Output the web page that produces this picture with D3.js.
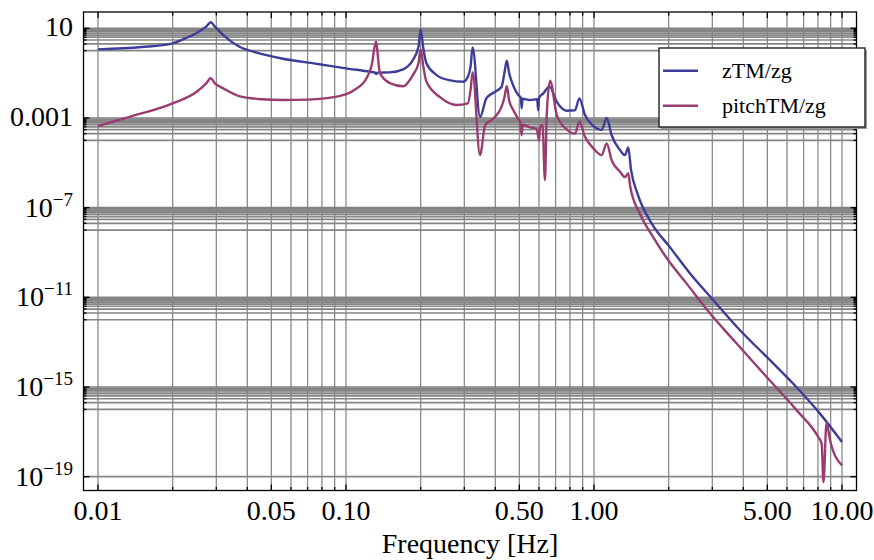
<!DOCTYPE html>
<html>
<head>
<meta charset="utf-8">
<script src="https://cdn.jsdelivr.net/npm/d3@7"></script>
<style>
  body { margin: 0; background: #fff; }
  svg { display: block; }
  text { font-family: "Liberation Serif", "Times New Roman", serif; fill: #000; }
</style>
</head>
<body>
<svg id="chart" width="874" height="560"></svg>
<script>
// zTM/zg response (frequency in Hz, magnitude)
var zFreq = [0.01, 0.015, 0.02, 0.022, 0.025, 0.0273, 0.0285, 0.0296, 0.032, 0.037, 0.044, 0.055, 0.078, 0.1,
  0.125, 0.131, 0.1325, 0.134, 0.15, 0.17, 0.186, 0.196, 0.2, 0.205, 0.211, 0.232, 0.26, 0.297,
  0.31, 0.318, 0.324, 0.347, 0.368, 0.393, 0.424, 0.435, 0.445, 0.455, 0.466, 0.495, 0.507,
  0.511, 0.515, 0.552, 0.59, 0.596, 0.6, 0.625, 0.661, 0.708, 0.776, 0.838, 0.873, 0.92, 0.994,
  1.074, 1.125, 1.178, 1.273, 1.334, 1.374, 1.41, 1.5, 1.71, 2.02, 2.44, 3.03, 3.88, 4.97, 6.36,
  8.15, 10];
var zMag = [1.15, 1.46, 2.14, 3.2, 6.2, 11.8, 18.6, 11.8, 5.0, 1.55, 0.80, 0.45, 0.25, 0.164,
  0.115, 0.106, 0.09, 0.105, 0.108, 0.148, 0.385, 1.5, 9.0, 1.3, 0.275, 0.082, 0.049, 0.0415,
  0.069, 0.2, 1.4, 1.1e-3, 7.5e-3, 0.0133, 0.0247, 0.098, 0.358, 0.098, 0.0417, 0.0105, 8.0e-3,
  2.7e-3, 7.2e-3, 6.3e-3, 6.8e-3, 2.2e-3, 7.8e-3, 0.0126, 0.025, 5.2e-3, 2.1e-3, 2.2e-3, 7.5e-3, 1.35e-3, 4.4e-4,
  2.9e-4, 1.0e-3, 1.7e-4, 3.7e-5, 2.2e-5, 4.9e-5, 5e-6, 4e-7, 1.95e-8, 1.78e-9, 1.15e-10, 7.4e-12, 3.4e-13, 2.2e-14, 1.4e-15,
  6.5e-17, 3.5e-18];

// pitchTM/zg response
var pFreq = [0.01, 0.0133, 0.02, 0.025, 0.0273, 0.0285, 0.0296, 0.032, 0.037, 0.046, 0.055, 0.07, 0.094, 0.108,
  0.121, 0.127, 0.132, 0.137, 0.151, 0.17, 0.186, 0.196, 0.2, 0.205, 0.211, 0.24, 0.28, 0.31,
  0.318, 0.324, 0.347, 0.364, 0.393, 0.424, 0.435, 0.445, 0.455, 0.473, 0.495, 0.503, 0.511,
  0.515, 0.552, 0.587, 0.601, 0.605, 0.62, 0.634, 0.645, 0.665, 0.708, 0.776, 0.838, 0.873, 0.92,
  0.994, 1.074, 1.125, 1.178, 1.273, 1.334, 1.374, 1.40, 1.53, 1.73, 1.99, 2.36, 2.94, 3.76, 4.97,
  6.57, 8.02, 8.28, 8.42, 8.66, 8.95, 10];
var pMag = [4.4e-4, 1.1e-3, 4.5e-3, 0.0148, 0.035, 0.059, 0.035, 0.021, 9.5e-3, 6.8e-3, 6.3e-3, 6.6e-3, 9.5e-3, 0.0178,
  0.059, 0.23, 2.5, 0.1, 0.035, 0.026, 0.082, 0.275, 1.15, 0.2, 0.042, 8.3e-3, 3.8e-3, 4.5e-3,
  0.018, 0.11, 2.2e-5, 4.8e-4, 9.5e-4, 3.2e-3, 8e-3, 0.026, 6e-3, 2.2e-3, 9e-4, 6.8e-4, 1.7e-4,
  5e-4, 3.8e-4, 3.3e-4, 1.0e-4, 3.5e-4, 5e-4, 1.7e-6, 1.5e-3, 0.046, 1.35e-3, 3.1e-4, 2.0e-4, 6.8e-4, 1.44e-4,
  4.4e-5, 2.2e-5, 7.4e-5, 1.3e-5, 4.0e-6, 2.3e-6, 3.4e-6, 8.5e-7, 5.5e-8, 5.0e-9, 4.6e-10, 4.2e-11, 1.9e-12, 8.7e-14, 2.8e-15,
  9.1e-17, 5.9e-18, 3.0e-18, 5.6e-20, 2.5e-17, 4.2e-18, 3.2e-19];

var seriesNames = ["zTM/zg", "pitchTM/zg"];
var seriesColors = ["#3d3d99", "#993d71"];

var xTicks = [0.01, 0.05, 0.1, 0.5, 1, 5, 10];
var xTickLabels = ["0.01", "0.05", "0.10", "0.50", "1.00", "5.00", "10.00"];
var xDecades = [0.01, 0.1, 1];

var yTicks = [1e1, 1e-3, 1e-7, 1e-11, 1e-15, 1e-19];
var yTickBase = ["10", "0.001", "10", "10", "10", "10"];
var yTickExp = ["", "", "\u22127", "\u221211", "\u221215", "\u221219"];


var svg = d3.select("svg#chart");

// frame box
var frame = {left: 83.5, right: 856.5, top: 12, bottom: 490.5};

var x = d3.scaleLog().domain([0.01, 10]).range([98, 842]);
var y = d3.scaleLog().domain([10, 1e-19]).range([28.3, 476.7]);

// vertical grid: 1..9 in every decade, plus the end
var xGrid = [];
for (var dec of xDecades) {
  for (var m = 1; m <= 9; m++) xGrid.push(m * dec);
}
xGrid.push(10);

// horizontal grid: each major tick plus the decade underneath it
var yGridMinor = [];
yTicks.forEach(function(t, i) {
  if (i == yTicks.length - 1) return;
  for (var m = 1; m <= 9; m++) yGridMinor.push(m * t / 10);
});

var grid = svg.append("g");

grid.selectAll("line.vgrid")
  .data(xGrid)
  .enter().append("line")
  .attr("class", "vgrid")
  .attr("x1", d => x(d)).attr("x2", d => x(d))
  .attr("y1", frame.top).attr("y2", frame.bottom)
  .attr("stroke", "#8a8a8a")
  .attr("stroke-width", 1.3);

grid.selectAll("line.hgrid")
  .data(yTicks.concat(yGridMinor))
  .enter().append("line")
  .attr("class", "hgrid")
  .attr("x1", frame.left).attr("x2", frame.right)
  .attr("y1", d => y(d)).attr("y2", d => y(d))
  .attr("stroke", "#858585")
  .attr("stroke-width", 1.7);


// curves
svg.append("clipPath").attr("id", "plotClip")
  .append("rect")
  .attr("x", frame.left).attr("y", frame.top)
  .attr("width", frame.right - frame.left)
  .attr("height", frame.bottom - frame.top);

var line = d3.line()
  .x(d => x(d[0]))
  .y(d => y(d[1]))
  .curve(d3.curveMonotoneX);

var series = [d3.zip(zFreq, zMag), d3.zip(pFreq, pMag)];

svg.append("g").attr("clip-path", "url(#plotClip)")
  .selectAll("path.curve")
  .data(series)
  .enter().append("path")
  .attr("class", "curve")
  .attr("d", d => line(d))
  .attr("fill", "none")
  .attr("stroke", (d, i) => seriesColors[i])
  .attr("stroke-width", 2.4)
  .attr("stroke-linejoin", "round");


// frame and ticks
svg.append("rect")
  .attr("x", frame.left).attr("y", frame.top)
  .attr("width", frame.right - frame.left)
  .attr("height", frame.bottom - frame.top)
  .attr("fill", "none")
  .attr("stroke", "#000")
  .attr("stroke-width", 1.3);

var ticks = svg.append("g").attr("stroke", "#000").attr("stroke-width", 1.3);

var xTickData = xGrid.map(d => ({v: d, len: xTicks.indexOf(d) >= 0 ? 6 : 3.5}));
ticks.selectAll("line.xb")
  .data(xTickData)
  .enter().append("line")
  .attr("class", "xb")
  .attr("x1", d => x(d.v)).attr("x2", d => x(d.v))
  .attr("y1", frame.bottom).attr("y2", d => frame.bottom - d.len);
ticks.selectAll("line.xt")
  .data(xTickData)
  .enter().append("line")
  .attr("class", "xt")
  .attr("x1", d => x(d.v)).attr("x2", d => x(d.v))
  .attr("y1", frame.top).attr("y2", d => frame.top + d.len);

var yTickData = yTicks.map(d => ({v: d, len: 6}))
  .concat(yGridMinor.map(d => ({v: d, len: 3})));
ticks.selectAll("line.yl")
  .data(yTickData)
  .enter().append("line")
  .attr("class", "yl")
  .attr("x1", frame.left).attr("x2", d => frame.left + d.len)
  .attr("y1", d => y(d.v)).attr("y2", d => y(d.v));
ticks.selectAll("line.yr")
  .data(yTickData)
  .enter().append("line")
  .attr("class", "yr")
  .attr("x1", frame.right).attr("x2", d => frame.right - d.len)
  .attr("y1", d => y(d.v)).attr("y2", d => y(d.v));


// tick labels
svg.selectAll("text.xlabel")
  .data(xTicks)
  .enter().append("text")
  .attr("class", "xlabel")
  .attr("x", d => x(d))
  .attr("y", 520)
  .attr("text-anchor", "middle")
  .attr("font-size", 28)
  .text((d, i) => xTickLabels[i]);

var yl = svg.selectAll("text.ylabel")
  .data(yTicks)
  .enter().append("text")
  .attr("class", "ylabel")
  .attr("x", 73)
  .attr("y", (d, i) => y(d) + (yTickExp[i] ? 9 : 8))
  .attr("text-anchor", "end")
  .attr("font-size", 28)
  .text((d, i) => yTickBase[i]);

yl.filter((d, i) => yTickExp[i] != "")
  .append("tspan")
  .attr("dy", -11)
  .attr("font-size", 19)
  .text(d => yTickExp[yTicks.indexOf(d)]);

svg.append("text")
  .attr("x", (frame.left + frame.right) / 2)
  .attr("y", 553)
  .attr("text-anchor", "middle")
  .attr("font-size", 28)
  .text("Frequency [Hz]");


// legend
var legend = svg.append("g").attr("transform", "translate(659,48)");

legend.append("rect")
  .attr("x", 2).attr("y", 2)
  .attr("width", 206).attr("height", 79)
  .attr("fill", "#9a9a9a");
legend.append("rect")
  .attr("width", 206).attr("height", 79)
  .attr("fill", "#fff")
  .attr("stroke", "#222")
  .attr("stroke-width", 1.4);

var entry = legend.selectAll("g.entry")
  .data(seriesNames)
  .enter().append("g")
  .attr("class", "entry")
  .attr("transform", (d, i) => "translate(0," + (22.7 + i * 35) + ")");

entry.append("line")
  .attr("x1", 4).attr("x2", 39)
  .attr("stroke", (d, i) => seriesColors[i])
  .attr("stroke-width", 2.5);

entry.append("text")
  .attr("x", 63)
  .attr("y", 7)
  .attr("font-size", 22)
  .text(d => d);
</script>
</body>
</html>
